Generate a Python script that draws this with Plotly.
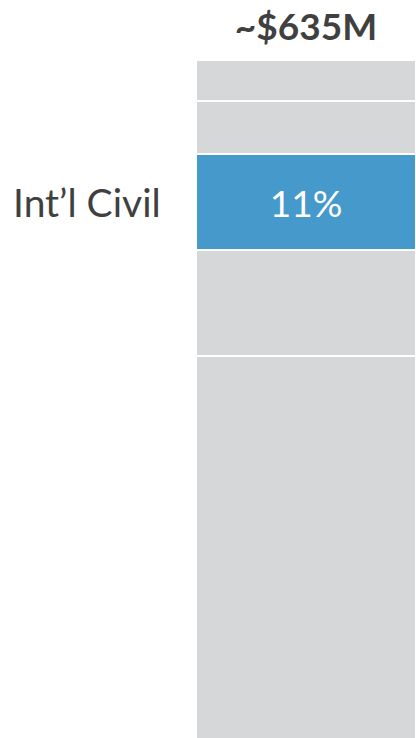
import numpy as np
import plotly.graph_objects as go

# segments of the single stacked bar, top to bottom (share of total, %)
segments = ["Seg A", "Seg B", "Int’l Civil", "Seg D", "Seg E"]
shares = [4.7, 6.1, 11.0, 12.1, 66.1]
highlight = "Int’l Civil"
bar_label = "~$635M"

GRAY = "#D6D7D9"
BLUE = "#4599CB"
TXT = "#404040"
FONT = "Lato"

fig = go.Figure()
for name, val in zip(segments, shares):
    hi = name == highlight
    fig.add_trace(go.Bar(
        x=[bar_label], y=[val], name=name,
        marker=dict(color=BLUE if hi else GRAY, line=dict(color="white", width=2)),
        text=[f"{val:.0f}%"] if hi else None,
        textposition="inside", insidetextanchor="middle",
        textfont=dict(color="white", size=37, family=FONT),
        hoverinfo="skip",
    ))

# left-hand label at the middle of the highlighted segment
cum = np.cumsum(shares)
idx = segments.index(highlight)
mid = cum[idx] - shares[idx] / 2
fig.add_annotation(x=0, xref="paper", xanchor="right", xshift=-33,
                   y=mid, yref="y", text=highlight, showarrow=False,
                   font=dict(size=39, color=TXT, family=FONT))

visible = 77.7  # share of the bar that fits in the frame
fig.update_layout(
    barmode="stack", bargap=0, showlegend=False,
    width=416, height=738,
    margin=dict(l=196, r=0, t=60, b=0),
    paper_bgcolor="white", plot_bgcolor="white",
    uniformtext=dict(minsize=10, mode="show"),
)
fig.update_xaxes(side="top", showgrid=False, showline=False, zeroline=False,
                 ticks="", ticklabelstandoff=12, automargin=False,
                 tickfont=dict(size=37, color=TXT, family=FONT, weight="bold"))
fig.update_yaxes(range=[visible, 0], visible=False, showgrid=False,
                 zeroline=False, automargin=False)

# drop the default 8px body margin so the figure fills the window
fig.write_html("out.html", config={"displayModeBar": False},
               post_script="document.body.style.margin='0px';"
                           "document.body.style.overflow='hidden';")
